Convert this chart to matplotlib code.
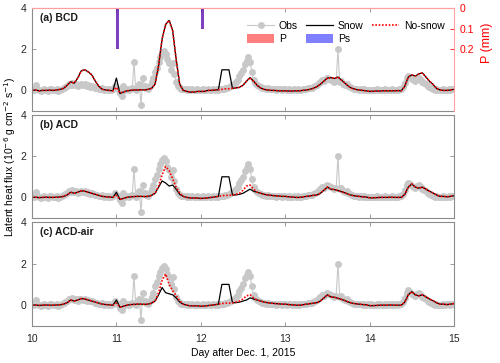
import numpy as np
import matplotlib
matplotlib.use('Agg')
import matplotlib.pyplot as plt
from matplotlib.lines import Line2D
from matplotlib.patches import Patch

plt.rcParams['font.family'] = ['Liberation Sans', 'DejaVu Sans']
plt.rcParams['font.size'] = 7.5

# half-hourly observations, day 10.0 -> 15.0
obs = [
    0.05, 0.0, 0.25, 0.08, 0.0, -0.05, 0.02, 0.05, 0.0, -0.03, 0.05, 0.08,
    0.02, 0.0, 0.05, -0.02, 0.03, 0.06, 0.1, 0.15, 0.22, 0.3, 0.28, 0.35,
    0.25, 0.3, 0.2, 0.28, 0.32, 0.25, 0.3, 0.22, 0.25, 0.18, 0.2, 0.15,
    0.12, 0.1, 0.08, 0.05, 0.1, 0.02, 0.05, 0.0, 0.08, 0.03, 0.05, 0.2,
    # day 11
    0.1, 0.05, -0.15, -0.25, 0.2, 0.0, 0.05, 0.0, 0.05, 0.1, 1.4, 0.0,
    0.1, 0.3, -0.7, 0.6, 0.2, 0.1, 0.05, 0.2, 0.4, 0.6, 0.9, 1.1,
    1.4, 1.6, 1.8, 1.9, 1.75, 1.5, 1.35, 1.0, 1.35, 0.8, 0.4, 0.2,
    0.1, 0.05, 0.08, 0.05, 0.03, 0.05, 0.02, 0.05, 0.0, 0.03, 0.05, 0.02,
    # day 12
    0.0, 0.05, 0.02, 0.0, 0.05, 0.03, 0.0, 0.05, 0.02, 0.05, 0.03, 0.05,
    0.05, 0.08, 0.1, 0.12, 0.15, 0.2, 0.25, 0.3, 0.4, 0.5, 0.7, 0.85,
    1.0, 1.3, 1.45, 1.6, 1.4, 0.9, 0.5, 0.35, 0.25, 0.2, 0.15, 0.12,
    0.1, 0.08, 0.1, 0.06, 0.05, 0.08, 0.05, 0.03, 0.06, 0.05, 0.03, 0.05,
    # day 13
    0.05, 0.03, 0.06, 0.04, 0.02, 0.05, 0.03, 0.05, 0.02, 0.04, 0.06, 0.05,
    0.08, 0.1, 0.12, 0.1, 0.15, 0.2, 0.25, 0.35, 0.4, 0.5, 0.45, 0.55,
    0.6, 0.55, 0.5, 0.45, 0.4, 0.45, 2.0, 0.4, 0.45, 0.3, 0.25, 0.3,
    0.2, 0.15, 0.1, 0.08, 0.05, 0.06, 0.04, 0.05, 0.03, 0.05, 0.02, 0.04,
    # day 14
    0.02, 0.04, 0.01, 0.03, 0.05, 0.02, 0.04, 0.01, 0.03, 0.05, 0.02, 0.04,
    0.03, 0.05, 0.02, 0.04, 0.03, 0.05, 0.08, 0.15, 0.35, 0.6, 0.72, 0.65,
    0.55, 0.5, 0.45, 0.55, 0.6, 0.5, 0.4, 0.35, 0.3, 0.22, 0.15, 0.1,
    0.06, 0.03, 0.05, 0.02, 0.0, 0.03, 0.05, 0.02, 0.04, 0.06, 0.03, 0.05,
    0.08,
]

# hourly model output
bcd_nosnow = [
    0.0, 0.02, -0.02, 0.0, 0.0, 0.01, 0.0, 0.02, 0.05, 0.1, 0.25, 0.42,
    0.35, 0.6, 0.95, 1.0, 0.9, 0.75, 0.45, 0.2, 0.05, 0.02, 0.0, -0.02,
    0.15, -0.12, -0.08, -0.02, 0.0, 0.02, 0.02, 0.03, 0.02, 0.05, 0.1, 0.3,
    1.2, 2.5, 3.2, 3.4, 2.9, 1.5, 0.3, 0.0, -0.05, -0.08, -0.08, -0.05,
    -0.05, -0.05, 0.0, 0.0, 0.02, 0.03, 0.05, 0.08, 0.08, 0.1, 0.12, 0.15,
    0.25, 0.45, 0.62, 0.45, 0.25, 0.12, 0.05, 0.02, 0.0, 0.0, -0.02, -0.02,
    -0.02, -0.03, -0.03, -0.02, -0.02, 0.0, 0.02, 0.05, 0.1, 0.18, 0.3, 0.45,
    0.6, 0.62, 0.58, 0.65, 0.5, 0.35, 0.2, 0.1, 0.05, 0.02, 0.0, -0.02,
    -0.05, -0.04, -0.03, -0.03, -0.02, -0.02, -0.02, -0.02, -0.01, -0.02, 0.2, 0.65,
    0.75, 0.7, 0.8, 0.85, 0.65, 0.45, 0.3, 0.1, 0.02, 0.0, 0.0, 0.02,
    0.05,
]
bcd_snow = [
    0.0, 0.02, -0.02, 0.0, 0.0, 0.01, 0.0, 0.02, 0.05, 0.1, 0.25, 0.42,
    0.35, 0.6, 0.95, 1.0, 0.9, 0.75, 0.45, 0.2, 0.05, 0.02, 0.0, -0.02,
    0.6, -0.15, -0.08, -0.02, 0.0, 0.02, 0.02, 0.03, 0.02, 0.05, 0.1, 0.3,
    1.2, 2.5, 3.2, 3.4, 2.9, 1.5, 0.3, 0.0, -0.05, -0.08, -0.08, -0.05,
    -0.05, -0.05, 0.0, 0.0, 0.02, 0.03, 1.0, 1.0, 1.0, 0.1, 0.12, 0.15,
    0.25, 0.45, 0.62, 0.45, 0.25, 0.12, 0.05, 0.02, 0.0, 0.0, -0.02, -0.02,
    -0.02, -0.03, -0.03, -0.02, -0.02, 0.0, 0.02, 0.05, 0.1, 0.18, 0.3, 0.45,
    0.6, 0.62, 0.58, 0.65, 0.5, 0.35, 0.2, 0.1, 0.05, 0.02, 0.0, -0.02,
    -0.05, -0.04, -0.03, -0.03, -0.02, -0.02, -0.02, -0.02, -0.01, -0.02, 0.2, 0.65,
    0.75, 0.7, 0.8, 0.85, 0.65, 0.45, 0.3, 0.1, 0.02, 0.0, 0.0, 0.02,
    0.05,
]
acd_nosnow = [
    0.0, 0.01, -0.01, 0.0, 0.01, 0.0, 0.0, 0.01, 0.02, 0.05, 0.12, 0.25,
    0.2, 0.25, 0.32, 0.3, 0.25, 0.2, 0.15, 0.1, 0.05, 0.03, 0.02, 0.0,
    0.1, -0.1, -0.05, 0.0, 0.03, 0.04, 0.05, 0.05, 0.04, 0.05, 0.1, 0.2,
    0.55, 1.1, 1.5, 1.3, 0.9, 0.5, 0.2, 0.05, 0.0, -0.03, -0.03, -0.03,
    -0.05, -0.04, -0.02, 0.0, 0.02, 0.05, 0.08, 0.1, 0.1, 0.12, 0.15, 0.2,
    0.35, 0.55, 0.6, 0.4, 0.25, 0.2, 0.15, 0.12, 0.1, 0.08, 0.07, 0.05,
    0.05, 0.03, 0.02, 0.0, 0.0, 0.02, 0.05, 0.07, 0.1, 0.12, 0.2, 0.35,
    0.5, 0.4, 0.38, 0.33, 0.28, 0.22, 0.15, 0.1, 0.07, 0.05, 0.03, 0.02,
    -0.02, -0.02, -0.01, 0.0, 0.0, 0.0, 0.01, 0.0, 0.0, 0.0, 0.15, 0.5,
    0.65, 0.5, 0.45, 0.5, 0.4, 0.3, 0.22, 0.12, 0.05, 0.05, 0.03, 0.05,
    0.08,
]
acd_snow = [
    0.0, 0.01, -0.01, 0.0, 0.01, 0.0, 0.0, 0.01, 0.02, 0.05, 0.12, 0.25,
    0.2, 0.25, 0.32, 0.3, 0.25, 0.2, 0.15, 0.1, 0.05, 0.03, 0.02, 0.0,
    0.25, -0.1, -0.05, 0.0, 0.03, 0.04, 0.05, 0.05, 0.04, 0.05, 0.1, 0.2,
    0.5, 0.8, 0.7, 0.55, 0.6, 0.4, 0.15, 0.05, 0.0, -0.03, -0.03, -0.03,
    -0.05, -0.04, -0.02, 0.0, 0.02, 0.05, 1.0, 1.0, 1.0, 0.12, 0.12, 0.15,
    0.2, 0.3, 0.4, 0.3, 0.25, 0.2, 0.15, 0.12, 0.1, 0.08, 0.07, 0.05,
    0.05, 0.03, 0.02, 0.0, 0.0, 0.02, 0.05, 0.07, 0.1, 0.12, 0.2, 0.35,
    0.5, 0.4, 0.38, 0.33, 0.28, 0.22, 0.15, 0.1, 0.07, 0.05, 0.03, 0.02,
    -0.02, -0.02, -0.01, 0.0, 0.0, 0.0, 0.01, 0.0, 0.0, 0.0, 0.15, 0.5,
    0.65, 0.5, 0.45, 0.5, 0.4, 0.3, 0.22, 0.12, 0.05, 0.05, 0.03, 0.05,
    0.08,
]
air_nosnow = [
    0.0, 0.01, -0.01, 0.0, 0.01, 0.0, 0.0, 0.01, 0.02, 0.05, 0.12, 0.25,
    0.2, 0.25, 0.32, 0.3, 0.25, 0.2, 0.15, 0.1, 0.05, 0.03, 0.02, 0.0,
    0.1, -0.1, -0.05, 0.0, 0.03, 0.04, 0.05, 0.05, 0.04, 0.05, 0.1, 0.2,
    0.6, 1.2, 1.5, 1.0, 0.7, 0.45, 0.2, 0.05, 0.0, -0.03, -0.03, -0.03,
    -0.05, -0.04, -0.02, 0.0, 0.02, 0.05, 0.08, 0.1, 0.1, 0.12, 0.15, 0.2,
    0.3, 0.45, 0.5, 0.35, 0.25, 0.2, 0.15, 0.12, 0.1, 0.08, 0.07, 0.05,
    0.05, 0.03, 0.02, 0.0, 0.0, 0.02, 0.05, 0.07, 0.1, 0.12, 0.2, 0.35,
    0.5, 0.4, 0.38, 0.33, 0.28, 0.22, 0.15, 0.1, 0.07, 0.05, 0.03, 0.02,
    -0.02, -0.02, -0.01, 0.0, 0.0, 0.0, 0.01, 0.0, 0.0, 0.0, 0.15, 0.5,
    0.65, 0.5, 0.45, 0.5, 0.4, 0.3, 0.22, 0.12, 0.05, 0.05, 0.03, 0.05,
    0.08,
]
air_snow = [
    0.0, 0.01, -0.01, 0.0, 0.01, 0.0, 0.0, 0.01, 0.02, 0.05, 0.12, 0.25,
    0.2, 0.25, 0.32, 0.3, 0.25, 0.2, 0.15, 0.1, 0.05, 0.03, 0.02, 0.0,
    0.25, -0.1, -0.05, 0.0, 0.03, 0.04, 0.05, 0.05, 0.04, 0.05, 0.1, 0.2,
    0.5, 0.85, 0.6, 0.55, 0.5, 0.35, 0.15, 0.05, 0.0, -0.03, -0.03, -0.03,
    -0.05, -0.04, -0.02, 0.0, 0.02, 0.05, 1.0, 1.0, 1.0, 0.12, 0.12, 0.15,
    0.2, 0.25, 0.35, 0.3, 0.25, 0.2, 0.15, 0.12, 0.1, 0.08, 0.07, 0.05,
    0.05, 0.03, 0.02, 0.0, 0.0, 0.02, 0.05, 0.07, 0.1, 0.12, 0.2, 0.35,
    0.5, 0.4, 0.38, 0.33, 0.28, 0.22, 0.15, 0.1, 0.07, 0.05, 0.03, 0.02,
    -0.02, -0.02, -0.01, 0.0, 0.0, 0.0, 0.01, 0.0, 0.0, 0.0, 0.15, 0.5,
    0.65, 0.5, 0.45, 0.5, 0.4, 0.3, 0.22, 0.12, 0.05, 0.05, 0.03, 0.05,
    0.08,
]

# precipitation (mm)
p_days = [11.01, 12.02]
p_all = [0.2, 0.1]
p_snow = [0.2, 0.1]

t_obs = 10 + np.arange(len(obs)) / 48.0
t_mod = 10 + np.arange(len(bcd_snow)) / 24.0

panels = [
    ('(a) BCD', bcd_snow, bcd_nosnow),
    ('(b) ACD', acd_snow, acd_nosnow),
    ('(c) ACD-air', air_snow, air_nosnow),
]

W, H = 500, 363
fig = plt.figure(figsize=(W / 100, H / 100), dpi=100)
boxes = [(8, 111), (115, 218), (222, 326)]  # top/bottom in pixels
left, right = 32, 454
spine_gray = '0.55'
pink = '#ff9f9f'

axes = []
for (label, snow, nosnow), (top, bot) in zip(panels, boxes):
    ax = fig.add_axes([left / W, 1 - bot / H, (right - left) / W, (bot - top) / H])
    ax.plot(t_obs, obs, '-o', color='#c8c8c8', ms=5, lw=0.8, mew=0)
    ax.plot(t_mod, snow, color='k', lw=0.9)
    ax.plot(t_mod, nosnow, color='red', lw=1.2, ls=(0, (1, 1)))
    ax.set_xlim(10, 15)
    ax.set_ylim(-1, 4)
    ax.set_yticks([0, 2, 4])
    ax.set_xticks([10, 11, 12, 13, 14, 15])
    ax.tick_params(direction='in', length=3, width=0.6, top=True, right=True,
                   colors=spine_gray, labelcolor='0.15')
    ax.tick_params(axis='x', pad=6)
    ax.tick_params(axis='y', pad=4)
    for s in ax.spines.values():
        s.set_color(spine_gray)
        s.set_linewidth(0.8)
    ax.text(0.018, 0.905, label, transform=ax.transAxes, fontweight='bold',
            va='center', ha='left', color='0.1')
    axes.append(ax)

for ax in axes[:2]:
    ax.tick_params(labelbottom=False)

# precipitation axis on panel (a)
ax_a = axes[0]
ax_a.tick_params(right=False)
ax_a.spines['top'].set_color(pink)
ax_a.spines['right'].set_visible(False)
ax2 = ax_a.twinx()
ax2.bar(p_days, p_all, width=0.03, color='red', alpha=0.5, lw=0)
ax2.bar(p_days, p_snow, width=0.03, color='blue', alpha=0.5, lw=0)
ax2.set_ylim(0.5, 0)
ax2.set_yticks([0, 0.1, 0.2])
ax2.set_yticklabels(['0', '0.1', '0.2'])
ax2.tick_params(axis='y', direction='in', length=3, width=0.6, colors='red', pad=4)
ax2.spines['right'].set_color(pink)
ax2.spines['top'].set_color(pink)
ax2.spines['left'].set_visible(False)
ax2.spines['bottom'].set_visible(False)
ax2.set_ylabel('P (mm)', color='red', fontsize=9)
ax2.yaxis.set_label_coords(1.064, 0.66)

handles = [
    Line2D([], [], color='#c8c8c8', marker='o', ms=5, mew=0, lw=0.8),
    Patch(facecolor='red', alpha=0.5, lw=0),
    Line2D([], [], color='k', lw=0.9),
    Patch(facecolor='blue', alpha=0.5, lw=0),
    Line2D([], [], color='red', lw=1.2, ls=(0, (1, 1))),
]
labels = ['Obs', 'P', 'Snow', 'Ps', 'No-snow']
ax2.legend(handles, labels, ncol=3, frameon=False, loc='upper right',
           bbox_to_anchor=(0.99, 0.93), borderpad=0, handlelength=2.6,
           handletextpad=0.45, columnspacing=0.8, labelspacing=0.3,
           handleheight=1.0)

axes[2].set_xlabel('Day after Dec. 1, 2015', labelpad=2.5)
fig.text(0.021, 1 - 157 / H, 'Latent heat flux (10$^{-6}$ g cm$^{-2}$ s$^{-1}$)',
         rotation=90, va='center', ha='center')

fig.savefig('out.png', dpi=100)
